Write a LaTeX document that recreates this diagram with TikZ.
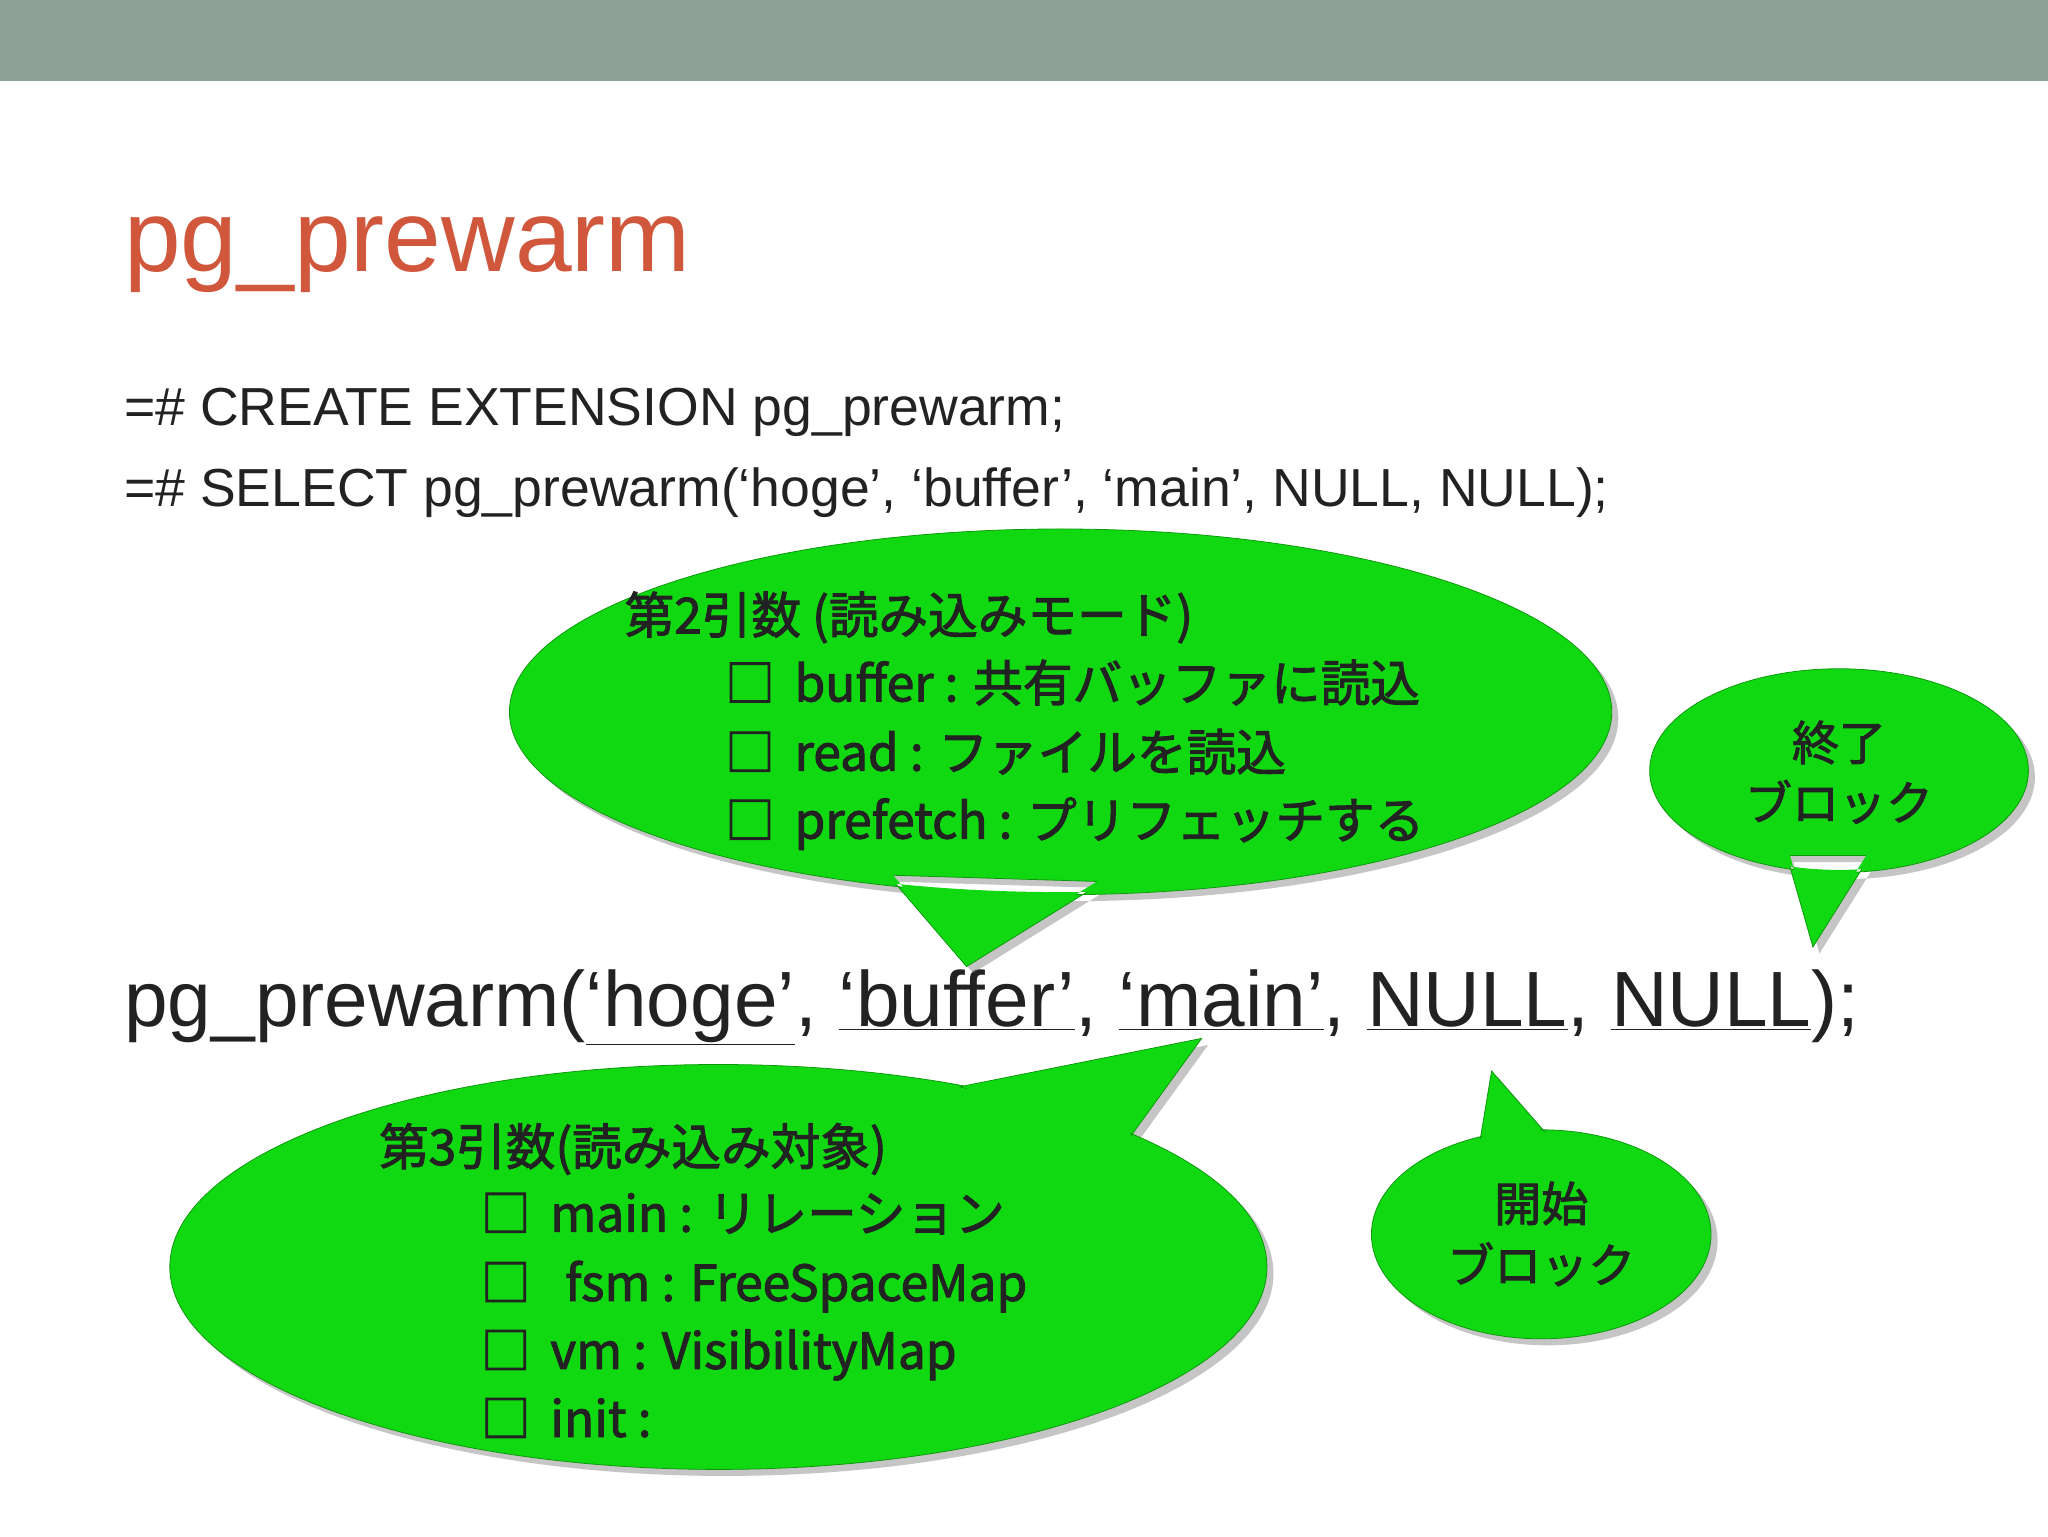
\documentclass[tikz,border=0pt]{standalone}
\usepackage{fontspec}
\setmainfont{Liberation Sans}
\newfontfamily\cjk{Noto Sans CJK JP}[AutoFakeBold=2]
\usetikzlibrary{shadows}
\definecolor{barc}{HTML}{8FA098}
\definecolor{titlec}{HTML}{D0573C}
\definecolor{bub}{HTML}{11D911}
\definecolor{txt}{HTML}{222222}
\tikzset{
  bubble/.style={fill=bub, draw=bub!70!black, line width=0.6pt, drop shadow={shadow xshift=5pt, shadow yshift=-5pt, opacity=0.45, fill=gray}},
  btxt/.style={anchor=base west, inner sep=0pt, text=txt, font=\cjk\bfseries\fontsize{38}{44}\selectfont},
  ctxt/.style={anchor=base, inner sep=0pt, text=txt, font=\cjk\bfseries\fontsize{36}{42}\selectfont}
}
\begin{document}
\begin{tikzpicture}[x=1pt,y=-1pt]
\useasboundingbox[fill=white] (0,0) rectangle (1568,1176);
\fill[barc] (0,0) rectangle (1568,62);
\node[anchor=base west, inner sep=0pt, text=titlec, font=\fontsize{78}{90}\selectfont] (title) at (95,208) {pg\_prewarm};
\node[anchor=base west, inner sep=0pt, text=txt, font=\fontsize{41}{48}\selectfont] (l1) at (95,326) {=\# CREATE EXTENSION pg\_prewarm;};
\node[anchor=base west, inner sep=0pt, text=txt, font=\fontsize{41}{48}\selectfont] (l2) at (95,388) {=\# SELECT pg\_prewarm(‘hoge’, ‘buffer’, ‘main’, NULL, NULL);};
\node[anchor=base west, inner sep=0pt, text=txt, font=\fontsize{60}{70}\selectfont] (big) at (95,786) {pg\_prewarm(\underline{‘hoge’}, \underline{‘buffer’}, \underline{‘main’}, \underline{NULL}, \underline{NULL});};

% bubble 2nd arg
\path[bubble] (812,545) ellipse [x radius=422, y radius=140] (680,670) -- (740,740) -- (845,675) -- cycle;
\fill[bub] (812,545) ellipse [x radius=420, y radius=138] (682,668) -- (740,736) -- (843,673) -- cycle;
\node[btxt] (b1t) at (478,485) {第2引数 (読み込みモード)};
\node[btxt] (b1a) at (555,537) {□\hspace{0.4em}buffer : 共有バッファに読込};
\node[btxt] (b1b) at (555,590) {□\hspace{0.4em}read : ファイルを読込};
\node[btxt] (b1c) at (555,642) {□\hspace{0.4em}prefetch : プリフェッチする};

% end bubble
\path[bubble] (1408,590) ellipse [x radius=145, y radius=78] (1368,655) -- (1388,725) -- (1432,655) -- cycle;
\fill[bub] (1408,590) ellipse [x radius=143, y radius=76] (1370,653) -- (1388,721) -- (1430,653) -- cycle;
\node[ctxt] (e1) at (1408,582) {終了};
\node[ctxt] (e2) at (1408,628) {ブロック};

% bubble 3rd arg
\path[bubble] (550,970) ellipse [x radius=420, y radius=155] (735,832) -- (920,795) -- (862,875) -- cycle;
\fill[bub] (550,970) ellipse [x radius=418, y radius=153] (737,832) -- (916,798) -- (860,875) -- cycle;
\node[btxt] (b3t) at (290,892) {第3引数(読み込み対象)};
\node[btxt] (b3a) at (368,943) {□\hspace{0.4em}main : リレーション};
\node[btxt] (b3b) at (368,996) {□\hspace{0.7em}fsm : FreeSpaceMap};
\node[btxt] (b3c) at (368,1048) {□\hspace{0.4em}vm : VisibilityMap};
\node[btxt] (b3d) at (368,1100) {□\hspace{0.4em}init :};

% start bubble
\path[bubble] (1180,945) ellipse [x radius=130, y radius=80] (1132,880) -- (1142,820) -- (1190,875) -- cycle;
\fill[bub] (1180,945) ellipse [x radius=128, y radius=78] (1134,880) -- (1143,824) -- (1188,875) -- cycle;
\node[ctxt] (s1) at (1180,935) {開始};
\node[ctxt] (s2) at (1180,982) {ブロック};
\end{tikzpicture}
\end{document}
